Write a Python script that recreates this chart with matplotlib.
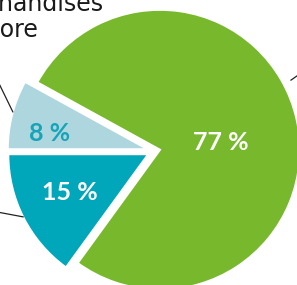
import numpy as np
import matplotlib
matplotlib.use("Agg")
import matplotlib.pyplot as plt

# data
labels = ["Autres", "Services", "Marchandises"]
values = [8, 15, 77]
colors = ["#aed6df", "#00a6b9", "#77b82c"]
pct_colors = ["#16a4b7", "white", "white"]
title_lines = ["Marchandises", "en store"]

W, H = 297, 285
PX = 140.0  # pixels per radius unit
cx, cy = 154.5, 151.0  # pie centre in pixels (from top-left)

fig = plt.figure(figsize=(W / 100, H / 100), dpi=100)
ax = fig.add_axes([0, 0, 1, 1])

wedges, _ = ax.pie(values, colors=colors, startangle=180 - values[0] * 3.6,
                   counterclock=True, explode=[0.05, 0.05, 0.04],
                   wedgeprops=dict(edgecolor="white", linewidth=1.5))

ax.set_xlim(-cx / PX, (W - cx) / PX)
ax.set_ylim(-(H - cy) / PX, cy / PX)
ax.set_aspect("auto")
ax.axis("off")

# percentage labels: (distance, angle shift)
lab_pos = [(0.71, 5), (0.62, -1), (0.44, -6)]
for w, v, c, (d, da) in zip(wedges, values, pct_colors, lab_pos):
    a = np.deg2rad((w.theta1 + w.theta2) / 2 + da)
    x0, y0 = w.center
    ax.text(x0 + d * np.cos(a), y0 + d * np.sin(a), f"{v} %",
            ha="center", va="center", color=c, fontsize=18,
            fontweight="bold", family=["Lato", "DejaVu Sans"])

# leader lines: (angle, start radius, dx, dy) in radius units
leaders = [(164.5, 1.0, -0.19, 0.39), (206.6, 1.0, -0.32, 0.06), (28, 1.06, 0.10, 0.07)]
for w, (ang, r0, dx, dy) in zip(wedges, leaders):
    a = np.deg2rad(ang)
    x0, y0 = w.center
    xs = x0 + r0 * np.cos(a)
    ys = y0 + r0 * np.sin(a)
    ax.plot([xs, xs + dx], [ys, ys + dy], color="#222222", lw=0.9)

# cut-off caption
fig.text(-58 / W, 1 - 11 / H, title_lines[0], fontsize=17, color="#1a1a1a",
         va="baseline", ha="left")
fig.text(-59 / W, 1 - 37 / H, title_lines[1], fontsize=17, color="#1a1a1a",
         va="baseline", ha="left")

fig.savefig("out.png", dpi=100)
